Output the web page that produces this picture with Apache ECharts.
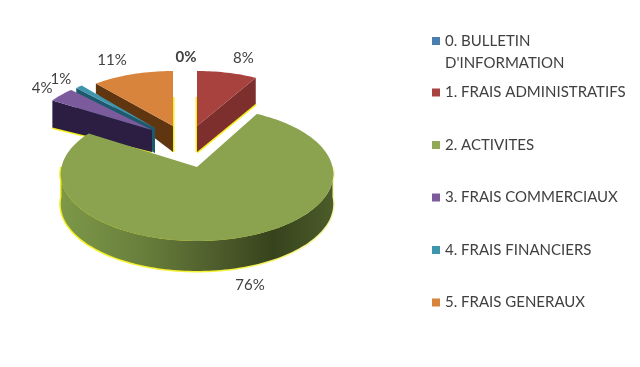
<!DOCTYPE html>
<html><head><meta charset="utf-8">
<style>html,body{margin:0;padding:0;background:#fff}#c{width:640px;height:367px}</style>
<script src="https://cdn.jsdelivr.net/npm/echarts@6/dist/echarts.min.js"></script>
</head><body><div id="c"></div>
<script>
const categories = ["0. BULLETIN D'INFORMATION","1. FRAIS ADMINISTRATIFS","2. ACTIVITES","3. FRAIS COMMERCIAUX","4. FRAIS FINANCIERS","5. FRAIS GENERAUX"];
const percents = [0, 8, 76, 4, 1, 11];
const pctLabels = ["0%","8%","76%","4%","1%","11%"];
const faceColors = ['#4a7eb0','#a8423f','#8ba34f','#7b5b9c','#3e95ae','#d9843c'];
const legendColors = ['#4a7eb0','#a8423f','#8fa955','#7b5b9c','#3e95ae','#d9843c'];
const wallColors = ['#2c4f70','#7c2f2d','#566b30','#2c1e42','#1e5a6e','#5f360f'];
// layout of each exploded wedge: apex, radii, perspective, wall depths, label nudge, draw order, yellow edge flags
const layout = [
  {cx:186,cy:126,rx:122,ry:55,k:0,d:26,rimD:26,nx:0,ny:-14,z:2},
  {cx:197,cy:126,rx:122,ry:55,k:0,d:26,rimD:26,nx:16,ny:-15,z:2,edgeUp:true,edgeBase:true},
  {cx:197,cy:167,rx:135.5,ry:66.2,k:0.105,d:30,rimD:30,nx:15.5,ny:17,z:6},
  {cx:152,cy:130,rx:118,ry:55,k:0,d:22,rimD:27,nx:-19,ny:-7,z:5,edgeBase:true},
  {cx:155,cy:128,rx:115,ry:55,k:0,d:25,rimD:25,nx:-18,ny:-8,z:4},
  {cx:173,cy:126,rx:121,ry:55,k:0,d:26,rimD:10,nx:-20,ny:-14,z:2,edgeUp:true}
];
const total = percents.reduce((a,b)=>a+b,0);
let acc = 0;
const spans = percents.map(v=>{const s=acc/total*360; acc+=v; return [s,acc/total*360];});

function pt(l,deg,dy){
  const a=deg*Math.PI/180, u=Math.sin(a), v=Math.cos(a), s=1/(1+l.k*v);
  return [l.cx+u*l.rx*s, l.cy-v*l.ry*s+(dy||0)];
}
function arc(l,a0,a1,dy){
  const n=Math.max(2,Math.ceil(Math.abs(a1-a0)/1.5)), out=[];
  for(let i=0;i<=n;i++) out.push(pt(l,a0+(a1-a0)*i/n,dy));
  return out;
}
const YEL='#f4f020';
function slice(i){
  return function(params,api){
    const l=layout[i],[a0,a1]=spans[i],kids=[];
    const value=api.value(0);
    if(value>0){
      const apex=[l.cx,l.cy];
      if(a1-a0>180){
        const lo=Math.max(a0,90),hi=Math.min(a1,270);
        const wall=arc(l,lo,hi,0).concat(arc(l,hi,lo,l.d));
        const edge=new echarts.graphic.LinearGradient(0,0,1,0,[{offset:0,color:YEL},{offset:0.6,color:'#f6f23a'},{offset:1,color:'#f6f6b0'}]);
        kids.push({type:'polygon',shape:{points:wall},style:{fill:'none',stroke:edge,lineWidth:3}});
        const grad=new echarts.graphic.LinearGradient(0,0,1,0,[
          {offset:0,color:'#7d9848'},{offset:0.3,color:'#687f3c'},{offset:0.55,color:'#505f2d'},
          {offset:0.78,color:'#36431c'},{offset:1,color:'#4c5c2a'}]);
        kids.push({type:'polygon',shape:{points:wall},style:{fill:grad}});
      } else {
        const e=(a0+a1)/2<180?a1:a0, r=pt(l,e);
        const base=[l.cx,l.cy+l.d], rb=[r[0],r[1]+l.rimD];
        if(l.edgeUp) kids.push({type:'polyline',shape:{points:[[l.cx,l.cy-29],base]},style:{fill:'none',stroke:YEL,lineWidth:3}});
        if(l.edgeBase) kids.push({type:'polyline',shape:{points:[base,rb]},style:{fill:'none',stroke:YEL,lineWidth:3}});
        kids.push({type:'polygon',shape:{points:[apex,r,rb,base]},style:{fill:wallColors[i]}});
      }
      kids.push({type:'polygon',shape:{points:[apex].concat(arc(l,a0,a1,0))},style:{fill:faceColors[i]}});
    }
    const m=pt(l,(a0+a1)/2,a1-a0>180?l.d:0);
    kids.push({type:'text',z2:50,style:{x:m[0]+l.nx,y:m[1]+l.ny,text:pctLabels[i],align:'center',verticalAlign:'middle',
      font:(i===0?'bold ':'')+'15px Lato',fill:'#404040'}});
    return {type:'group',children:kids};
  };
}
const series = categories.map((name,i)=>({
  name,type:'custom',coordinateSystem:'none',z:layout[i].z,silent:true,
  itemStyle:{color:legendColors[i]},data:[percents[i]],renderItem:slice(i)
}));
const legendText={color:'#404040',fontFamily:'Lato',fontSize:15};
const chart=echarts.init(document.getElementById('c'),null,{renderer:'canvas'});
chart.setOption({
  animation:false,backgroundColor:'#fff',
  legend:[
    {left:432,top:8,orient:'vertical',icon:'rect',itemWidth:8,itemHeight:8,itemGap:0,padding:0,selectedMode:false,
     data:[categories[0]],formatter:()=>"\n0. BULLETIN\nD'INFORMATION",textStyle:{...legendText,lineHeight:22,padding:[0,0,0,0]}},
    {left:432,top:84,orient:'vertical',icon:'rect',itemWidth:8,itemHeight:8,itemGap:35.5,padding:0,selectedMode:false,
     data:categories.slice(1),textStyle:{...legendText,lineHeight:17,padding:[0,0,0,0]}}
  ],
  series
});
</script></body></html>
